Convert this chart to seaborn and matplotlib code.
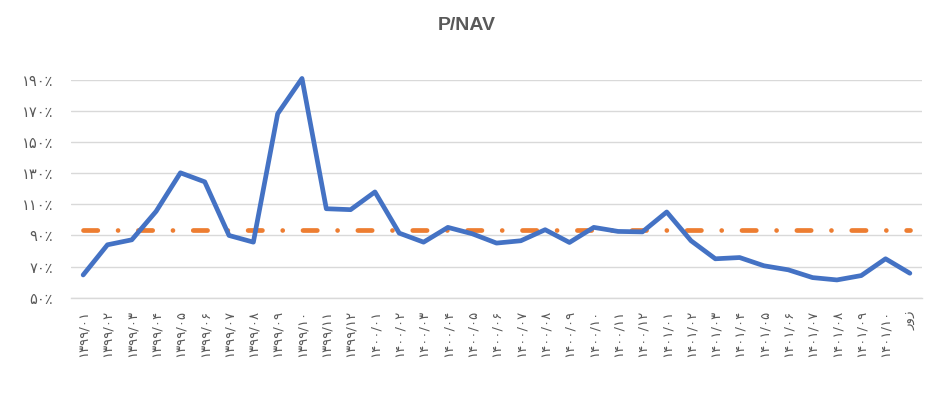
import matplotlib
matplotlib.use("Agg")
import matplotlib.pyplot as plt
import seaborn as sns
import pandas as pd

categories = [
    "۱۳۹۹/۰۱", "۱۳۹۹/۰۲", "۱۳۹۹/۰۳", "۱۳۹۹/۰۴", "۱۳۹۹/۰۵", "۱۳۹۹/۰۶",
    "۱۳۹۹/۰۷", "۱۳۹۹/۰۸", "۱۳۹۹/۰۹", "۱۳۹۹/۱۰", "۱۳۹۹/۱۱", "۱۳۹۹/۱۲",
    "۱۴۰۰/۰۱", "۱۴۰۰/۰۲", "۱۴۰۰/۰۳", "۱۴۰۰/۰۴", "۱۴۰۰/۰۵", "۱۴۰۰/۰۶",
    "۱۴۰۰/۰۷", "۱۴۰۰/۰۸", "۱۴۰۰/۰۹", "۱۴۰۰/۱۰", "۱۴۰۰/۱۱", "۱۴۰۰/۱۲",
    "۱۴۰۱/۰۱", "۱۴۰۱/۰۲", "۱۴۰۱/۰۳", "۱۴۰۱/۰۴", "۱۴۰۱/۰۵", "۱۴۰۱/۰۶",
    "۱۴۰۱/۰۷", "۱۴۰۱/۰۸", "۱۴۰۱/۰۹", "۱۴۰۱/۱۰", "روز",
]
p_nav = [
    64.6, 84.0, 87.2, 105.5, 130.3, 124.5, 90.0, 85.7, 168.3, 191.0,
    107.2, 106.6, 118.0, 91.5, 85.7, 95.2, 91.1, 85.1, 86.6, 93.7,
    85.5, 95.2, 92.6, 92.3, 105.1, 86.6, 75.0, 75.8, 70.5, 67.9,
    62.9, 61.4, 64.2, 75.0, 65.7,
]
average_value = 93.4
y_ticks = [50, 70, 90, 110, 130, 150, 170, 190]
y_tick_labels = ["۵۰٪", "۷۰٪", "۹۰٪", "۱۱۰٪", "۱۳۰٪", "۱۵۰٪", "۱۷۰٪", "۱۹۰٪"]
title = "P/NAV"

sns.set_theme(style="white")
plt.rcParams["font.family"] = ["DejaVu Sans"]
plt.rcParams["lines.scale_dashes"] = False

df = pd.DataFrame({"pos": list(range(len(categories))), "value": p_nav})

fig = plt.figure(figsize=(9.53, 3.99), dpi=100)
ax = fig.add_axes([0.0745, 0.254, 0.893, 0.5455])

grid_color = "#D9D9D9"
for t in y_ticks:
    ax.axhline(t, color=grid_color, lw=1.0, zorder=0)

sns.lineplot(data=df, x="pos", y="value", ax=ax, color="#4472C4",
             linewidth=3.4, zorder=3, clip_on=False, solid_capstyle="round",
             solid_joinstyle="round")

avg_line, = ax.plot(df["pos"], [average_value] * len(categories), color="#ED7D31",
                    linewidth=3.4, zorder=2, dash_capstyle="round")
avg_line.set_linestyle((0, (10.3, 14.6, 0.01, 14.6)))

ax.set_xlim(-0.5, len(categories) - 0.5)
ax.set_ylim(50, 190)
ax.set_yticks(y_ticks)
ax.set_yticklabels(y_tick_labels)
ax.set_xticks(list(range(len(categories))))
ax.set_xticklabels(categories, rotation=90, va="top", ha="center")
ax.tick_params(axis="both", length=0, labelcolor="#595959")
ax.tick_params(axis="x", labelsize=9.5, pad=9)
ax.tick_params(axis="y", labelsize=10.5, pad=13)
ax.set_xlabel("")
ax.set_ylabel("")
for s in ["top", "right", "left"]:
    ax.spines[s].set_visible(False)
ax.spines["bottom"].set_color(grid_color)
ax.spines["bottom"].set_linewidth(1.0)

fig.text(0.49, 0.937, title, ha="center", va="center", fontsize=14,
         fontweight="bold", color="#595959", family=["Liberation Sans", "DejaVu Sans"])

fig.savefig("out.png", dpi=100)
